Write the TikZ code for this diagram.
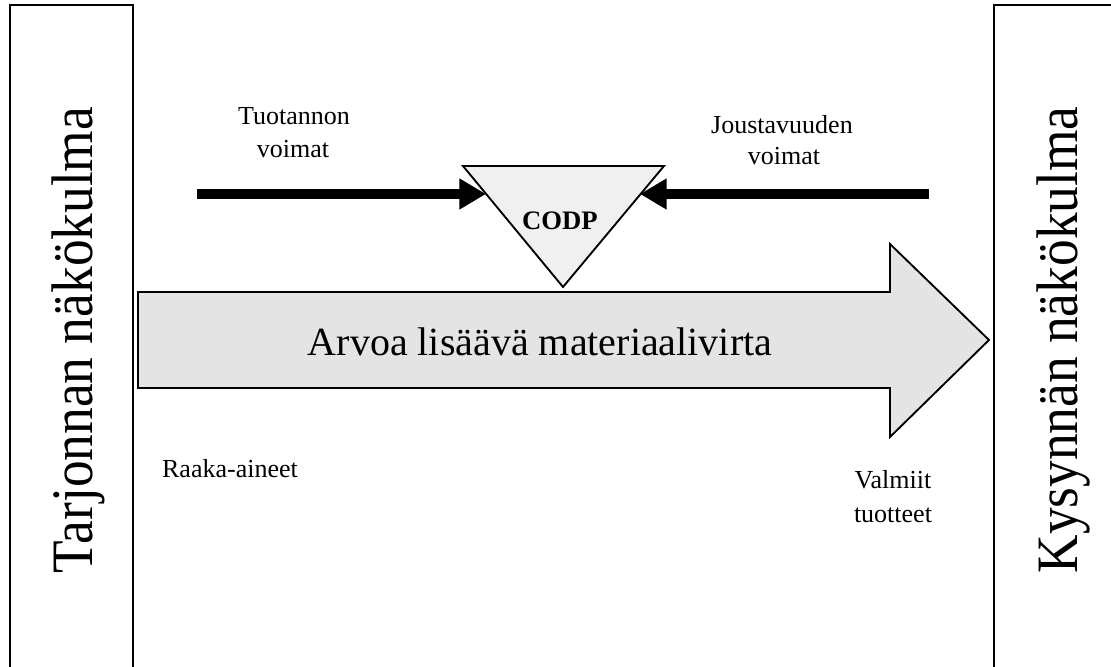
\documentclass[tikz,border=0pt]{standalone}
\usepackage{fontspec}
\setmainfont{Liberation Serif}
\usetikzlibrary{arrows.meta}

\definecolor{flowgray}{HTML}{E4E4E4}
\definecolor{pointgray}{HTML}{F0F0F0}

\tikzset{
  sidebox/.style={draw=black, line width=1.6pt, fill=white},
  sidelabel/.style={rotate=90, anchor=base, inner sep=0pt,
    font=\fontsize{44pt}{48pt}\selectfont},
  smalllabel/.style={anchor=base, inner sep=0pt,
    font=\fontsize{19.5pt}{24pt}\selectfont},
  flowshape/.style={draw=black, line width=1.4pt, fill=flowgray, line join=miter},
  pointshape/.style={draw=black, line width=1.4pt, fill=pointgray, line join=miter},
  forcearrow/.style={line width=6.8pt,
    -{Triangle[length=20pt, width=22pt]}, shorten >=0pt},
}

\begin{document}
\begin{tikzpicture}[x=0.75pt, y=-0.75pt]
  \useasboundingbox (0,0) rectangle (1111,667);
  \begin{scope}
    \clip (0,0) rectangle (1111,667);

    % side panels (open at the bottom / right edge)
    \draw[sidebox] (10,5) rectangle (133,700);
    \draw[sidebox] (994,5) rectangle (1150,700);
  \end{scope}

  \node[sidelabel] (supply) at (92,340) {\scalebox{0.91}[1]{Tarjonnan näkökulma}};
  \node[sidelabel] (demand) at (1077,340) {\scalebox{0.91}[1]{Kysynnän näkökulma}};

  % value-adding material flow arrow
  \draw[flowshape] (138,292) -- (890,292) -- (890,244) -- (989,340)
        -- (890,437) -- (890,388) -- (138,388) -- cycle;
  \node[anchor=base, inner sep=0pt, font=\fontsize{30pt}{34pt}\selectfont]
        (flow) at (540,355) {Arvoa lisäävä materiaalivirta};

  % decoupling point triangle
  \coordinate (codpL) at (463,166);
  \coordinate (codpR) at (664,166);
  \coordinate (codpB) at (563,287);
  \draw[pointshape] (codpL) -- (codpR) -- (codpB) -- cycle;
  \node[anchor=base, inner sep=0pt, font=\fontsize{20pt}{24pt}\selectfont\bfseries]
        (codp) at (560,229) {CODP};

  % opposing forces
  \coordinate (pushStart) at (197,194);
  \coordinate (pushEnd) at (486,194);
  \coordinate (pullStart) at (929,194);
  \coordinate (pullEnd) at (640,194);
  \draw[forcearrow] (pushStart) -- (pushEnd);
  \draw[forcearrow] (pullStart) -- (pullEnd);

  \node[smalllabel] (prodA) at (294,125) {Tuotannon};
  \node[smalllabel] (prodB) at (293,157) {voimat};
  \node[smalllabel] (flexA) at (782,133) {Joustavuuden};
  \node[smalllabel] (flexB) at (784,165) {voimat};

  \node[smalllabel] (raw) at (230,477) {Raaka-aineet};
  \node[smalllabel] (doneA) at (893,488) {Valmiit};
  \node[smalllabel] (doneB) at (893,522) {tuotteet};
\end{tikzpicture}
\end{document}
